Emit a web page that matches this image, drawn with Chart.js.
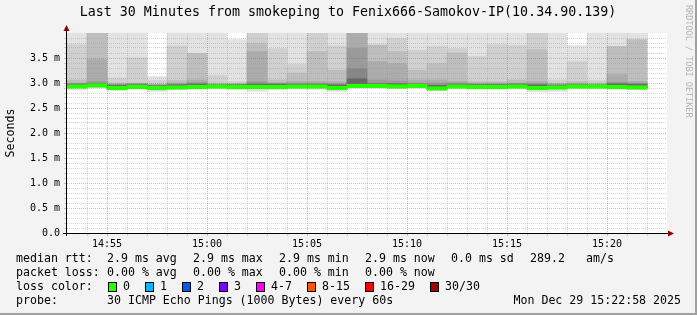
<!DOCTYPE html>
<html><head><meta charset="utf-8">
<script src="https://cdn.jsdelivr.net/npm/chart.js@4.4.1/dist/chart.umd.min.js"></script>
<style>html,body{margin:0;padding:0;background:#f3f3f3;}canvas{display:block;}</style>
</head><body>
<canvas id="c" width="697" height="315"></canvas>
<script>
// ---- data ----
const times = ['14:53','14:54','14:55','14:56','14:57','14:58','14:59','15:00','15:01','15:02',
               '15:03','15:04','15:05','15:06','15:07','15:08','15:09','15:10','15:11','15:12',
               '15:13','15:14','15:15','15:16','15:17','15:18','15:19','15:20','15:21','15:22'];
// smoke band tops (ms), outer (lightest) to inner (darkest)
const smokeTop1 = [4.0,4.0,4.0,4.0,3.13,4.0,4.0,4.0,3.87,4.0,4.0,4.0,4.0,4.0,4.0,4.0,4.0,4.0,4.0,4.0,4.0,4.0,4.0,4.0,4.0,3.75,4.0,4.0,4.0];
const smokeTop2 = [3.77,4.0,3.10,3.50,3.05,3.74,3.59,3.15,3.03,4.0,3.69,3.37,4.0,3.74,4.0,3.76,3.89,3.66,3.73,3.69,3.53,3.77,3.75,4.0,3.06,3.43,3.05,3.73,3.87];
const smokeTop3 = [3.06,4.0,3.00,3.00,2.98,3.05,3.59,3.00,2.99,3.80,3.06,3.20,3.63,3.26,4.0,3.76,3.63,3.26,3.39,3.60,3.03,3.03,3.06,3.67,3.00,3.03,3.00,3.73,3.87];
const smokeTop4 = [3.00,3.47,2.98,2.99,2.97,3.00,3.06,2.98,2.98,3.63,3.01,3.03,3.03,3.02,4.0,3.43,3.39,3.06,3.06,3.03,3.00,3.00,3.00,3.03,2.98,2.99,2.98,3.17,3.03];
const smokeTop5 = [2.99,3.03,2.97,2.98,2.96,2.98,3.01,2.97,2.97,3.03,2.99,2.99,2.99,2.98,3.70,3.06,3.04,3.00,3.00,3.00,2.98,2.98,2.99,2.99,2.97,2.98,2.97,3.02,3.00];
const smokeTop6 = [2.98,2.99,2.96,2.97,2.95,2.97,2.99,2.96,2.96,2.99,2.98,2.98,2.98,2.97,3.29,2.99,2.99,2.98,2.96,2.98,2.97,2.97,2.98,2.97,2.96,2.97,2.96,2.99,2.98];
const smokeTop7 = [2.97,2.97,2.95,2.96,2.94,2.96,2.97,2.96,2.96,2.97,2.97,2.97,2.97,2.96,3.09,2.98,2.98,2.97,2.95,2.97,2.96,2.96,2.97,2.96,2.95,2.96,2.95,2.98,2.97];
const median    = [2.93,2.95,2.90,2.92,2.90,2.91,2.92,2.93,2.92,2.92,2.92,2.93,2.93,2.90,2.94,2.94,2.93,2.94,2.89,2.93,2.92,2.92,2.93,2.90,2.91,2.93,2.93,2.92,2.91];
const smokeMin  = [2.86,2.90,2.85,2.89,2.83,2.87,2.88,2.88,2.87,2.83,2.87,2.88,2.87,2.83,2.90,2.90,2.89,2.90,2.85,2.89,2.88,2.88,2.88,2.82,2.83,2.88,2.88,2.88,2.87];

const yTickValues = [0, 0.5, 1.0, 1.5, 2.0, 2.5, 3.0, 3.5];
const yTickLabels = ['0.0','0.5 m','1.0 m','1.5 m','2.0 m','2.5 m','3.0 m','3.5 m'];
const xTickLabels = ['14:55','15:00','15:05','15:10','15:15','15:20'];

const rttStats  = ['2.9 ms avg','2.9 ms max','2.9 ms min','2.9 ms now','0.0 ms sd','289.2','am/s'];
const lossStats = ['0.00 % avg','0.00 % max','0.00 % min','0.00 % now'];
const lossLabels = ['0','1','2','3','4-7','8-15','16-29','30/30'];
const lossColors = ['#26ff00','#00b8ff','#0059ff','#7e00ff','#ff00ff','#ff5500','#ff0000','#a00000'];
const probeText = '30 ICMP Echo Pings (1000 Bytes) every 60s';
const stampText = 'Mon Dec 29 15:22:58 2025';
const titleText = 'Last 30 Minutes from smokeping to Fenix666-Samokov-IP(10.34.90.139)';

// ---- styles ----
const smokeColors = ['#e2e2e2','#d0d0d0','#bebebe','#acacac','#9a9a9a','#868686','#666666'];
const MONO = '"DejaVu Sans Mono", monospace';
const minorGrid = 'rgba(150,150,150,0.4)';
const majorGrid = 'rgba(230,60,60,0.42)';

const tops = [smokeTop1, smokeTop2, smokeTop3, smokeTop4, smokeTop5, smokeTop6, smokeTop7];
const datasets = tops.map((arr, k) => ({
  type: 'bar',
  data: arr.map((t, i) => [k === 0 ? smokeMin[i] : median[i], t]),
  backgroundColor: smokeColors[k],
  borderWidth: 0,
  grouped: false,
  barPercentage: 1,
  categoryPercentage: 1,
  order: 20 - k
}));
datasets.push({
  type: 'bar',
  data: median.map(m => [m - 0.035, m + 0.035]),
  backgroundColor: '#26ff00',
  borderWidth: 0,
  grouped: false,
  barPercentage: 1,
  categoryPercentage: 1,
  order: 1
});

const deco = {
  id: 'deco',
  beforeDraw(chart) {
    const {ctx, chartArea: a} = chart;
    ctx.save();
    ctx.fillStyle = '#f3f3f3';
    ctx.fillRect(0, 0, chart.width, chart.height);
    ctx.fillStyle = '#ffffff';
    ctx.fillRect(a.left, a.top, a.right - a.left, a.bottom - a.top);
    ctx.restore();
  },
  afterDraw(chart) {
    const {ctx, chartArea: a} = chart;
    ctx.save();
    // axes
    ctx.strokeStyle = '#000';
    ctx.lineWidth = 1;
    ctx.beginPath();
    ctx.moveTo(a.left - 0.5, a.bottom + 3);
    ctx.lineTo(a.left - 0.5, a.top - 5);
    ctx.moveTo(a.left - 4, a.bottom + 0.5);
    ctx.lineTo(a.right + 4, a.bottom + 0.5);
    ctx.stroke();
    ctx.fillStyle = '#900000';
    ctx.beginPath();
    ctx.moveTo(a.left - 0.5, a.top - 8);
    ctx.lineTo(a.left - 3.5, a.top - 2);
    ctx.lineTo(a.left + 2.5, a.top - 2);
    ctx.closePath(); ctx.fill();
    ctx.beginPath();
    ctx.moveTo(a.right + 7, a.bottom + 0.5);
    ctx.lineTo(a.right + 1, a.bottom - 2.5);
    ctx.lineTo(a.right + 1, a.bottom + 3.5);
    ctx.closePath(); ctx.fill();

    // title
    ctx.fillStyle = '#000';
    ctx.textBaseline = 'middle';
    ctx.textAlign = 'center';
    ctx.font = '13.3px ' + MONO;
    ctx.fillText(titleText, 348, 13);

    // y title
    ctx.save();
    ctx.translate(11, (a.top + a.bottom) / 2);
    ctx.rotate(-Math.PI / 2);
    ctx.font = '11.6px ' + MONO;
    ctx.fillText('Seconds', 0, 0);
    ctx.restore();

    // credit
    ctx.save();
    ctx.translate(688, 5);
    ctx.rotate(Math.PI / 2);
    ctx.textAlign = 'left';
    ctx.fillStyle = '#b4b4b4';
    ctx.font = '8.5px ' + MONO;
    ctx.fillText('RRDTOOL / TOBI OETIKER', 0, 0);
    ctx.restore();

    // legend
    ctx.textAlign = 'left';
    ctx.font = '11.6px ' + MONO;
    ctx.fillStyle = '#000';
    const rttX = [107, 193, 279, 365, 451, 530, 586];
    ctx.fillText('median rtt:', 16, 259);
    rttStats.forEach((s, i) => ctx.fillText(s, rttX[i], 259));
    ctx.fillText('packet loss:', 16, 273);
    lossStats.forEach((s, i) => ctx.fillText(s, rttX[i], 273));
    ctx.fillText('loss color:', 16, 287);
    const boxX = [108, 145, 182, 219, 256, 307, 365, 430];
    lossLabels.forEach((l, i) => {
      ctx.fillStyle = lossColors[i];
      ctx.fillRect(boxX[i], 282, 9, 10);
      ctx.strokeStyle = '#000';
      ctx.strokeRect(boxX[i] + 0.5, 282.5, 8, 9);
      ctx.fillStyle = '#000';
      ctx.fillText(l, boxX[i] + 15, 287);
    });
    ctx.fillText('probe:', 16, 301);
    ctx.fillText(probeText, 107, 301);
    ctx.textAlign = 'right';
    ctx.fillText(stampText, 681, 301);

    // frame
    ctx.fillStyle = '#a0a0a0';
    ctx.fillRect(chart.width - 2, 0, 2, chart.height);
    ctx.fillRect(0, chart.height - 2, chart.width, 2);
    ctx.restore();
  }
};

new Chart(document.getElementById('c'), {
  type: 'bar',
  data: { labels: times, datasets },
  options: {
    responsive: false,
    devicePixelRatio: 1,
    animation: false,
    events: [],
    layout: { padding: { left: 0, top: 33, right: 30, bottom: 0 } },
    plugins: { legend: { display: false }, tooltip: { enabled: false }, title: { display: false } },
    scales: {
      x: {
        type: 'category',
        offset: true,
        afterFit: s => { s.height = 82; },
        grid: {
          offset: true, z: 1, lineWidth: 1, tickLength: 3,
          color: c => {
            const t = times[c.index];
            if (!t || c.index === 0) return 'rgba(0,0,0,0)';
            return (+t.slice(3)) % 5 === 0 ? majorGrid : minorGrid;
          }
        },
        border: { display: false, dash: [1, 1] },
        ticks: {
          autoSkip: false, maxRotation: 0, minRotation: 0, labelOffset: -10, padding: 2,
          color: '#000', font: { family: MONO, size: 10 },
          callback: (v, i) => xTickLabels.includes(times[i]) ? times[i] : ''
        }
      },
      y: {
        type: 'linear', min: 0, max: 4,
        afterFit: s => { s.width = 67; },
        afterBuildTicks: s => { s.ticks = Array.from({length: 41}, (_, i) => ({ value: i / 10 })); },
        grid: {
          z: 1, lineWidth: 1, tickLength: 3,
          color: c => {
            const v = c.tick ? Math.round(c.tick.value * 10) : -1;
            if (v <= 0 || v >= 40) return 'rgba(0,0,0,0)';
            return v % 5 === 0 ? majorGrid : minorGrid;
          }
        },
        border: { display: false, dash: [1, 1] },
        ticks: {
          autoSkip: false, padding: 4, color: '#000', font: { family: MONO, size: 10 },
          callback: v => {
            const k = yTickValues.findIndex(t => Math.abs(t - v) < 1e-6);
            return k >= 0 ? yTickLabels[k] : '';
          }
        }
      }
    }
  },
  plugins: [deco]
});
</script>
</body></html>
